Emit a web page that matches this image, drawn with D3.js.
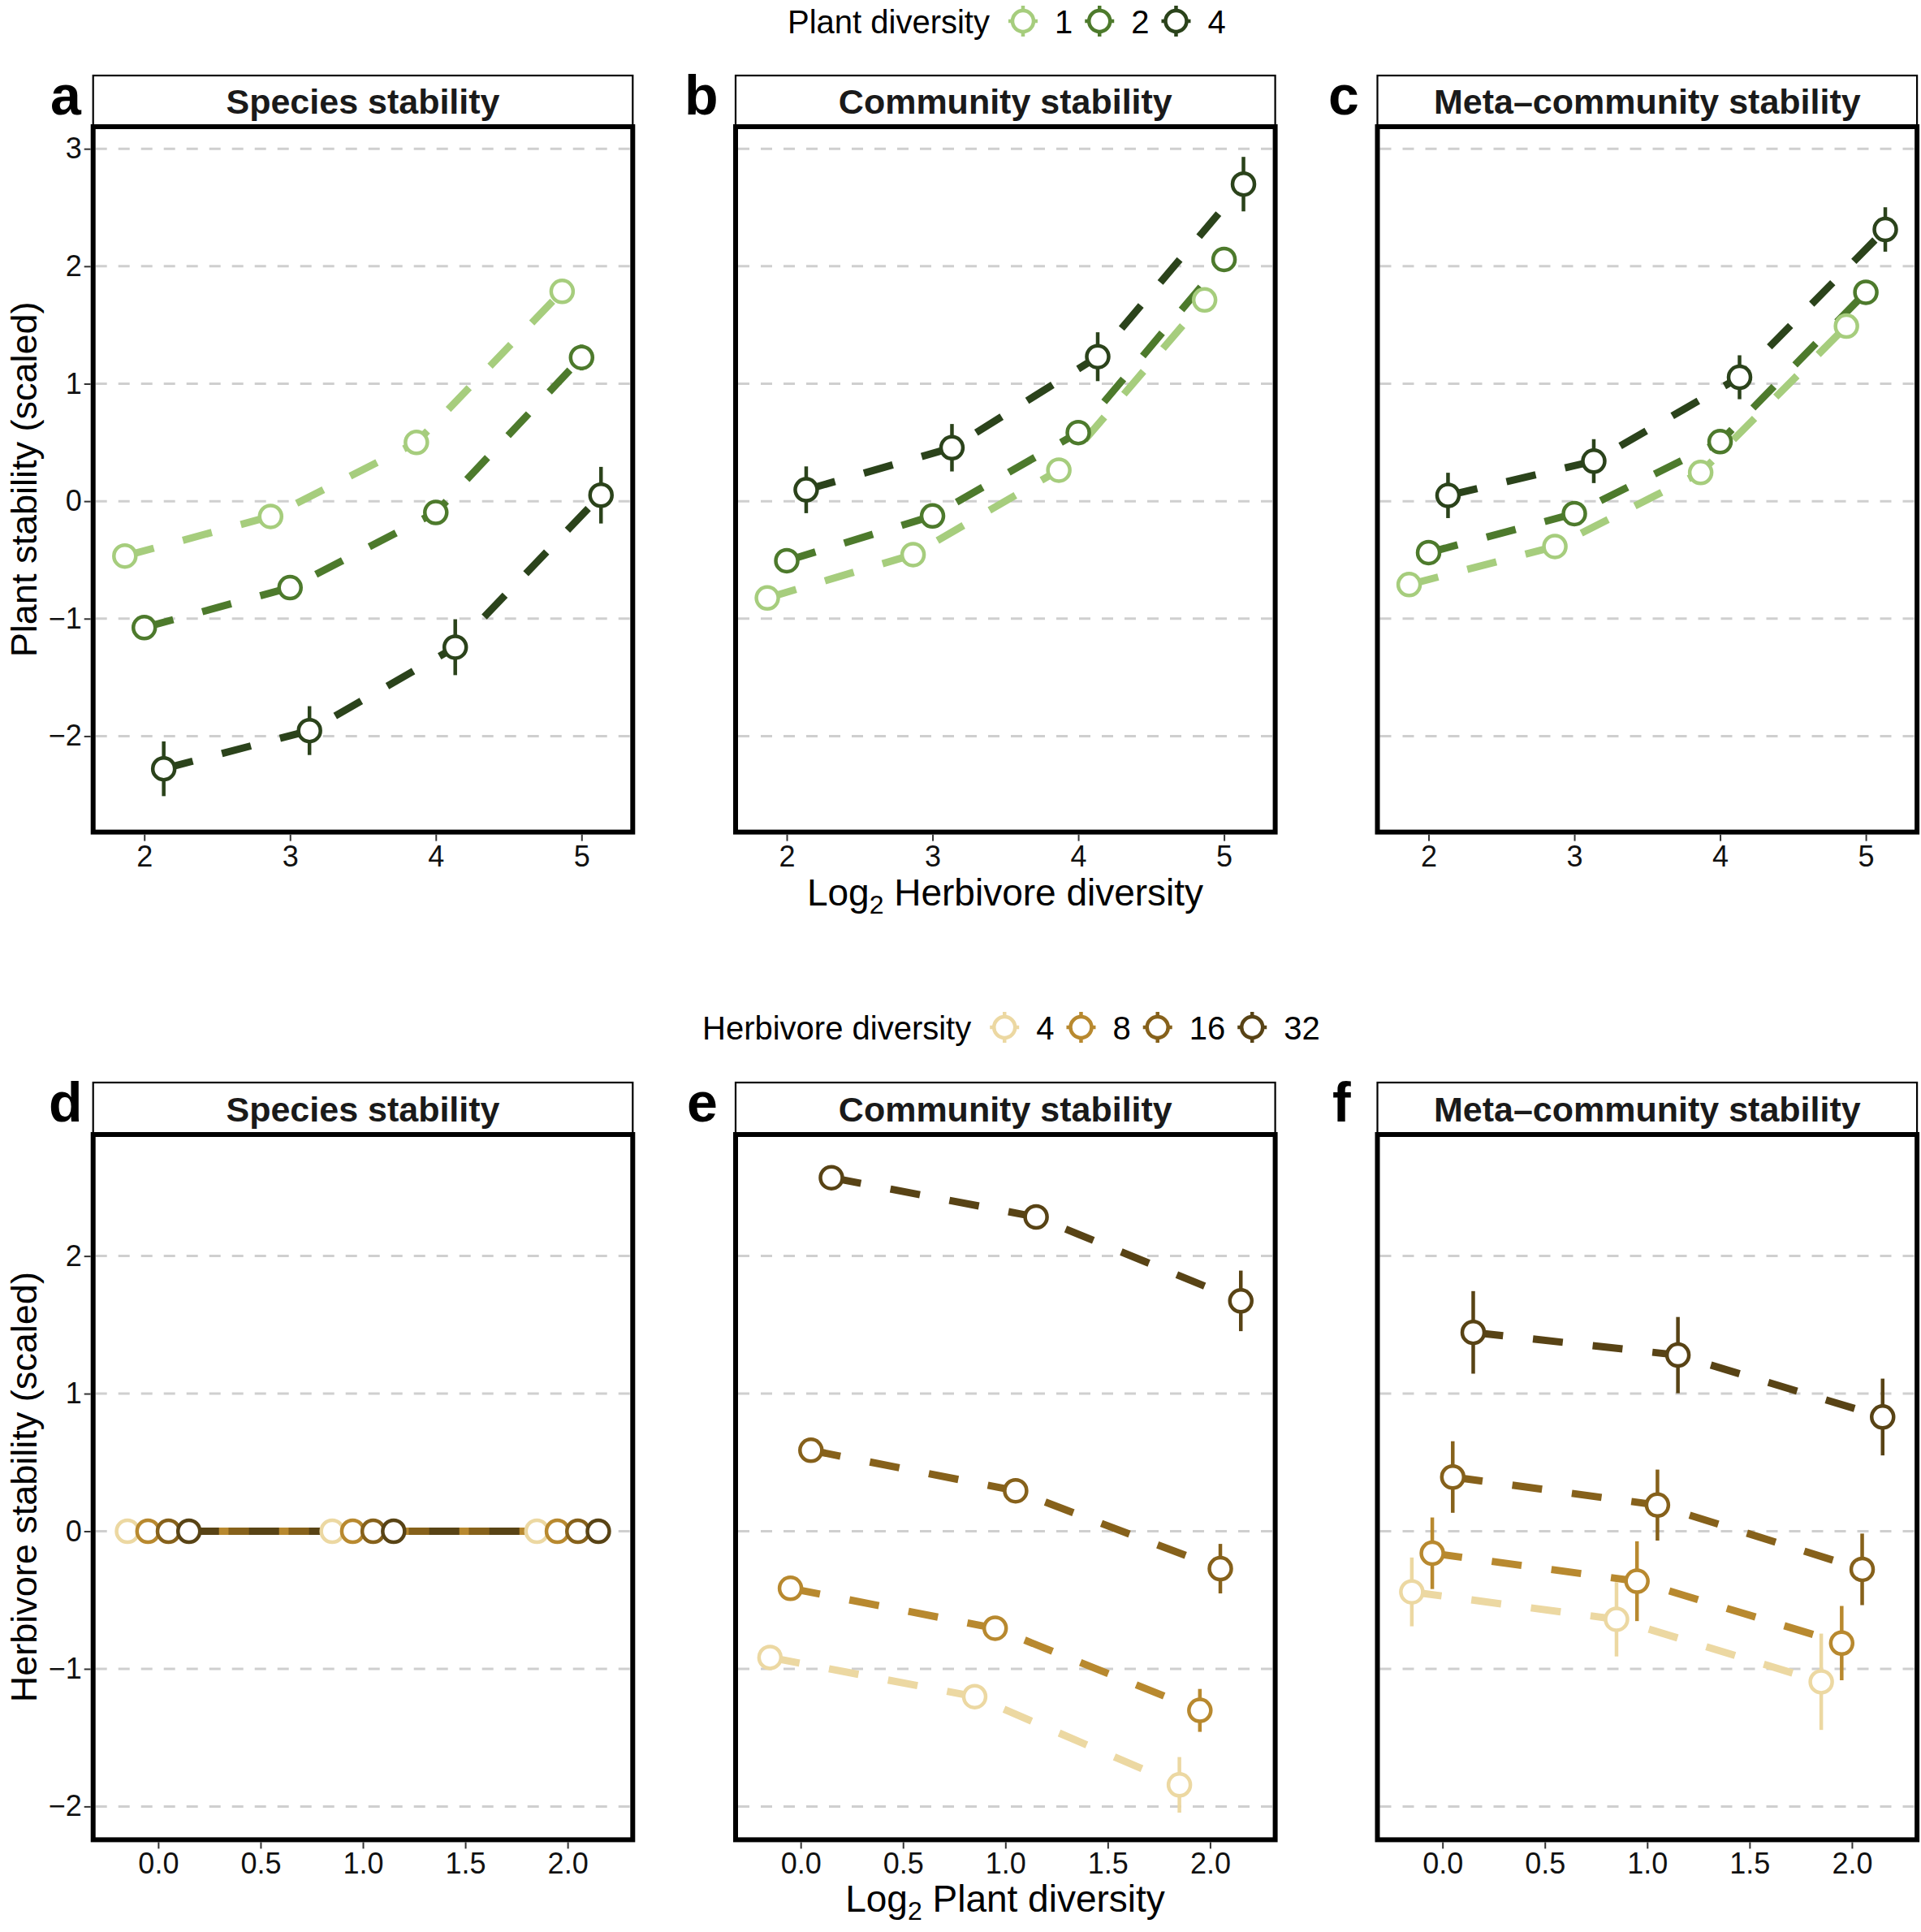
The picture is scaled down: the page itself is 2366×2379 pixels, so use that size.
<!DOCTYPE html>
<html><head><meta charset="utf-8">
<script src="https://cdn.jsdelivr.net/npm/d3@7"></script>
<style>
body{margin:0;background:#fff;}
text{font-family:"Liberation Sans",Arial,Helvetica,sans-serif;}
</style>
</head><body>
<svg id="chart" width="2366" height="2379"></svg>
<script>
// ---------------- DATA ----------------
const herbivoreLog2 = [2, 3, 4, 5];          // x values, top row
const plantLog2 = [0, 1, 2];                 // x values, bottom row
const plantDiversityLevels = ["1", "2", "4"];
const herbivoreDiversityLevels = ["4", "8", "16", "32"];
const plantColors = ["#a6cd7d", "#4d7a2c", "#2b431b"];
const herbColors = ["#ecd8a2", "#b8892f", "#86611b", "#584315"];
const stabilityTitles = ["Species stability", "Community stability", "Meta\u2013community stability"];
const topTags = ["a", "b", "c"];
const bottomTags = ["d", "e", "f"];
const topYTicks = [-2, -1, 0, 1, 2, 3];
const bottomYTicks = [-2, -1, 0, 1, 2];
const topXTicks = [2, 3, 4, 5];
const bottomXTicks = [0, 0.5, 1, 1.5, 2];

// Plant stability (rows: plant diversity 1, 2, 4; cols: log2 herbivore 2..5)
const plantSpeciesMean = [
  [-0.467, -0.130, 0.500, 1.786],
  [-1.076, -0.736, -0.096, 1.223],
  [-2.278, -1.953, -1.243, 0.051]];
const plantSpeciesSE = [
  [0.06, 0.06, 0.06, 0.06],
  [0.08, 0.08, 0.10, 0.11],
  [0.233, 0.208, 0.238, 0.241]];
const plantCommunityMean = [
  [-0.824, -0.455, 0.264, 1.713],
  [-0.507, -0.126, 0.584, 2.058],
  [0.097, 0.455, 1.230, 2.699]];
const plantCommunitySE = [
  [0.06, 0.06, 0.06, 0.07],
  [0.07, 0.07, 0.08, 0.08],
  [0.199, 0.202, 0.208, 0.232]];
const plantMetaMean = [
  [-0.710, -0.386, 0.244, 1.490],
  [-0.438, -0.106, 0.507, 1.778],
  [0.049, 0.341, 1.055, 2.313]];
const plantMetaSE = [
  [0.06, 0.06, 0.06, 0.06],
  [0.07, 0.07, 0.09, 0.08],
  [0.193, 0.187, 0.187, 0.189]];

// Herbivore stability (rows: herbivore diversity 4, 8, 16, 32; cols: log2 plant 0..2)
const herbSpeciesMean = [
  [0, 0, 0], [0, 0, 0], [0, 0, 0], [0, 0, 0]];
const herbSpeciesSE = [
  [0, 0, 0], [0, 0, 0], [0, 0, 0], [0, 0, 0]];
const herbCommunityMean = [
  [-0.917, -1.202, -1.843],
  [-0.415, -0.705, -1.302],
  [0.588, 0.294, -0.272],
  [2.569, 2.284, 1.674]];
const herbCommunitySE = [
  [0.05, 0.05, 0.202],
  [0.05, 0.05, 0.156],
  [0.05, 0.05, 0.180],
  [0.05, 0.05, 0.220]];
const herbMetaMean = [
  [-0.441, -0.640, -1.094],
  [-0.160, -0.363, -0.813],
  [0.394, 0.190, -0.277],
  [1.445, 1.280, 0.830]];
const herbMetaSE = [
  [0.25, 0.27, 0.35],
  [0.26, 0.29, 0.27],
  [0.26, 0.258, 0.26],
  [0.30, 0.277, 0.279]];

// ---------------- LAYOUT ----------------
const svg = d3.select("#chart");
svg.append("rect").attr("width", 2366).attr("height", 2379).attr("fill", "#fff");

const colLeft = [114.7, 906, 1696.5];
const panelW = 664.6;
const topRow = {stripTop: 93, top: 156, bottom: 1024.6,
  xDomain: [1.649, 5.351], yDomain: [-2.817, 3.188]};
const botRow = {stripTop: 1333, top: 1397, bottom: 2265.4,
  xDomain: [-0.318, 2.318], yDomain: [-2.242, 2.883]};

const LINE_W = 9, DASH = "37,37", PT_R = 13.5, PT_SW = 4.5, ERR_W = 4.5;

function drawPanel(p) {
  const g = svg.append("g");
  const x = d3.scaleLinear().domain(p.row.xDomain).range([p.left, p.left + panelW]);
  const y = d3.scaleLinear().domain(p.row.yDomain).range([p.row.bottom, p.row.top]);
  const right = p.left + panelW;

  // strip
  g.append("rect").attr("x", p.left).attr("y", p.row.stripTop)
    .attr("width", panelW).attr("height", p.row.top - p.row.stripTop)
    .attr("fill", "#fff").attr("stroke", "#000").attr("stroke-width", 2.2);
  g.append("text").attr("x", p.left + panelW / 2)
    .attr("y", (p.row.stripTop + p.row.top) / 2 + 15.5)
    .attr("text-anchor", "middle").attr("font-weight", "bold")
    .attr("font-size", 43).attr("fill", "#1a1a1a").text(p.title);
  // tag
  g.append("text").attr("x", p.tagX).attr("y", p.row.stripTop + 48)
    .attr("font-weight", "bold").attr("font-size", 68).attr("fill", "#000").text(p.tag);

  // grid
  g.selectAll(".grid").data(p.yTicks).enter().append("line")
    .attr("x1", p.left + 3).attr("x2", right - 3)
    .attr("y1", d => y(d)).attr("y2", d => y(d))
    .attr("stroke", "#cfcfcf").attr("stroke-width", 3).attr("stroke-dasharray", "14,14");

  const line = d3.line().x(d => x(d[0])).y(d => y(d[1]));
  // lines
  p.means.forEach((vals, gi) => {
    const pts = p.xs.map((xv, i) => [xv + p.offsets[gi], vals[i]]);
    g.append("path").attr("d", line(pts)).attr("fill", "none")
      .attr("stroke", p.colors[gi]).attr("stroke-width", LINE_W)
      .attr("stroke-dasharray", DASH).attr("stroke-linecap", "butt");
  });
  // error bars
  p.means.forEach((vals, gi) => {
    vals.forEach((v, i) => {
      const e = p.errs[gi][i];
      if (e <= 0) return;
      g.append("line").attr("x1", x(p.xs[i] + p.offsets[gi])).attr("x2", x(p.xs[i] + p.offsets[gi]))
        .attr("y1", y(v - e)).attr("y2", y(v + e))
        .attr("stroke", p.colors[gi]).attr("stroke-width", ERR_W);
    });
  });
  // points
  p.means.forEach((vals, gi) => {
    vals.forEach((v, i) => {
      g.append("circle").attr("cx", x(p.xs[i] + p.offsets[gi])).attr("cy", y(v))
        .attr("r", PT_R).attr("fill", "#fff")
        .attr("stroke", p.colors[gi]).attr("stroke-width", PT_SW);
    });
  });
  // border
  g.append("rect").attr("x", p.left).attr("y", p.row.top)
    .attr("width", panelW).attr("height", p.row.bottom - p.row.top)
    .attr("fill", "none").attr("stroke", "#000").attr("stroke-width", 6);

  // x axis
  const xa = g.append("g").attr("transform", `translate(0,${p.row.bottom + 3})`)
    .call(d3.axisBottom(x).tickValues(p.xTicks).tickFormat(p.xFmt).tickSize(8).tickPadding(5.5));
  xa.select(".domain").remove();
  xa.selectAll("line").attr("stroke", "#333").attr("stroke-width", 2);
  xa.selectAll("text").attr("font-size", 36).attr("fill", "#111")
    .attr("font-family", "Liberation Sans, Arial, sans-serif");

  if (p.showY) {
    const ya = g.append("g").attr("transform", `translate(${p.left - 3},0)`)
      .call(d3.axisLeft(y).tickValues(p.yTicks).tickFormat(d3.format("d")).tickSize(8).tickPadding(3));
    ya.select(".domain").remove();
    ya.selectAll("line").attr("stroke", "#333").attr("stroke-width", 2);
    ya.selectAll("text").attr("font-size", 36).attr("fill", "#111")
      .attr("font-family", "Liberation Sans, Arial, sans-serif");
  }
}

const topMeans = [plantSpeciesMean, plantCommunityMean, plantMetaMean];
const topErrs = [plantSpeciesSE, plantCommunitySE, plantMetaSE];
const botMeans = [herbSpeciesMean, herbCommunityMean, herbMetaMean];
const botErrs = [herbSpeciesSE, herbCommunitySE, herbMetaSE];
const topTagX = [62, 843, 1636];
const botTagX = [60, 846, 1641];
const topOffsets = plantDiversityLevels.map((d, i) => (i - 1) * 0.4 / 3);
const botOffsets = herbivoreDiversityLevels.map((d, i) => (i - 1.5) * 0.1);

for (let c = 0; c < 3; c++) {
  drawPanel({row: topRow, left: colLeft[c], title: stabilityTitles[c], tag: topTags[c], tagX: topTagX[c],
    xs: herbivoreLog2, means: topMeans[c], errs: topErrs[c], colors: plantColors, offsets: topOffsets,
    xTicks: topXTicks, yTicks: topYTicks, xFmt: d3.format("d"), showY: c === 0});
  drawPanel({row: botRow, left: colLeft[c], title: stabilityTitles[c], tag: bottomTags[c], tagX: botTagX[c],
    xs: plantLog2, means: botMeans[c], errs: botErrs[c], colors: herbColors, offsets: botOffsets,
    xTicks: bottomXTicks, yTicks: bottomYTicks, xFmt: d3.format(".1f"), showY: c === 0});
}

// axis titles
function xTitle(cx, baseline, rest) {
  const t = svg.append("text").attr("x", cx).attr("y", baseline).attr("text-anchor", "middle")
    .attr("font-size", 46).attr("fill", "#000");
  t.append("tspan").text("Log");
  t.append("tspan").attr("font-size", 32).attr("dy", 10).text("2");
  t.append("tspan").attr("dy", -10).text(" " + rest);
}
xTitle(1238, 1115, "Herbivore diversity");
xTitle(1238, 2354, "Plant diversity");

function yTitle(cy, label) {
  svg.append("text").attr("transform", `translate(45,${cy}) rotate(-90)`)
    .attr("text-anchor", "middle").attr("font-size", 45).attr("fill", "#000").text(label);
}
yTitle((topRow.top + topRow.bottom) / 2, "Plant stability (scaled)");
yTitle((botRow.top + botRow.bottom) / 2, "Herbivore stability (scaled)");

// legends
function legend(startX, cy, title, levels, colors) {
  const g = svg.append("g");
  const tt = g.append("text").attr("x", startX).attr("y", cy + 14.5)
    .attr("font-size", 40).attr("fill", "#000").text(title);
  let x = startX + tt.node().getComputedTextLength() + 41;
  levels.forEach((lv, i) => {
    g.append("line").attr("x1", x - 18).attr("x2", x + 18).attr("y1", cy).attr("y2", cy)
      .attr("stroke", colors[i]).attr("stroke-width", 4.5);
    g.append("line").attr("x1", x).attr("x2", x).attr("y1", cy - 19).attr("y2", cy + 19)
      .attr("stroke", colors[i]).attr("stroke-width", 4.5);
    g.append("circle").attr("cx", x).attr("cy", cy).attr("r", 13).attr("fill", "#fff")
      .attr("stroke", colors[i]).attr("stroke-width", 4.5);
    const lt = g.append("text").attr("x", x + 39).attr("y", cy + 14.5)
      .attr("font-size", 40).attr("fill", "#000").text(lv);
    x = x + 39 + lt.node().getComputedTextLength() + 33;
  });
}
legend(970, 26, "Plant diversity", plantDiversityLevels, plantColors);
legend(865, 1265, "Herbivore diversity", herbivoreDiversityLevels, herbColors);
</script>
</body></html>
